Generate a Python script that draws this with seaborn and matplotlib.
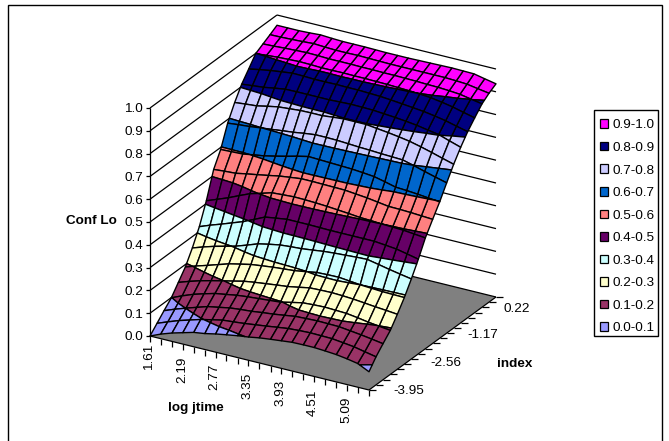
import numpy as np
import matplotlib
matplotlib.use("Agg")
import matplotlib.pyplot as plt
import seaborn as sns
from matplotlib.patches import Patch, Rectangle
from mpl_toolkits.mplot3d.art3d import Poly3DCollection, Line3DCollection

# ---------------- data ----------------
log_jtime = [1.61, 1.80, 2.00, 2.19, 2.38, 2.58, 2.77, 2.96, 3.16, 3.35, 3.54,
             3.74, 3.93, 4.12, 4.32, 4.51, 4.70, 4.90, 5.09, 5.28, 5.48]
index_vals = [-3.95, -3.72, -3.49, -3.25, -3.02, -2.79, -2.56, -2.33, -2.10, -1.86,
              -1.63, -1.40, -1.17, -0.94, -0.71, -0.48, -0.24, -0.01, 0.22]
conf_lo = [
 [.000,.020,.037,.050,.063,.070,.080,.088,.096,.102,.110,.116,.121,.126,.127,.127,.124,.120,.113,.104,.080],
 [.033,.051,.069,.083,.097,.108,.118,.122,.127,.133,.139,.146,.152,.155,.157,.156,.155,.149,.143,.133,.123],
 [.066,.084,.101,.116,.131,.140,.149,.154,.158,.164,.169,.176,.183,.185,.187,.186,.185,.179,.173,.166,.158],
 [.099,.119,.138,.152,.165,.173,.181,.186,.190,.194,.198,.209,.219,.222,.224,.222,.220,.213,.205,.199,.193],
 [.144,.160,.175,.187,.198,.209,.220,.227,.233,.239,.244,.253,.262,.264,.265,.263,.260,.255,.250,.246,.241],
 [.189,.205,.220,.235,.250,.261,.271,.277,.283,.287,.291,.299,.307,.309,.310,.305,.300,.297,.294,.293,.292],
 [.250,.266,.281,.293,.305,.322,.339,.349,.358,.362,.365,.371,.377,.381,.384,.387,.389,.379,.369,.360,.351],
 [.321,.339,.356,.373,.390,.412,.434,.441,.448,.448,.448,.447,.446,.446,.446,.446,.446,.441,.436,.426,.415],
 [.412,.430,.449,.470,.490,.504,.518,.521,.524,.523,.521,.518,.514,.510,.505,.503,.500,.498,.496,.491,.486],
 [.526,.530,.533,.542,.550,.559,.568,.574,.580,.580,.579,.578,.577,.572,.567,.560,.553,.552,.550,.547,.544],
 [.591,.593,.595,.603,.610,.621,.632,.644,.655,.653,.651,.649,.647,.643,.638,.627,.615,.612,.608,.603,.598],
 [.684,.689,.693,.699,.704,.710,.715,.722,.728,.728,.727,.724,.721,.719,.716,.714,.712,.699,.685,.672,.659],
 [.752,.757,.761,.771,.780,.784,.788,.789,.789,.794,.798,.798,.798,.792,.786,.779,.771,.759,.746,.732,.718],
 [.810,.815,.820,.828,.835,.836,.836,.836,.836,.838,.840,.839,.838,.834,.830,.825,.819,.810,.802,.786,.770],
 [.854,.863,.871,.877,.883,.882,.880,.880,.881,.880,.880,.878,.876,.872,.867,.862,.857,.849,.840,.828,.816],
 [.899,.903,.907,.909,.911,.910,.908,.908,.909,.908,.908,.907,.906,.904,.902,.899,.895,.887,.878,.866,.854],
 [.918,.920,.923,.925,.927,.926,.924,.924,.924,.923,.923,.922,.922,.921,.920,.918,.917,.914,.910,.901,.892],
 [.936,.937,.939,.941,.944,.941,.939,.939,.940,.939,.938,.937,.937,.937,.937,.937,.937,.935,.932,.924,.916],
 [.955,.955,.955,.957,.960,.957,.955,.955,.955,.954,.953,.953,.953,.954,.955,.956,.957,.956,.955,.945,.935],
]
band_edges = [0.0, 0.1, 0.2, 0.3, 0.4, 0.5, 0.6, 0.7, 0.8, 0.9, 1.0]
band_labels = ["0.0-0.1", "0.1-0.2", "0.2-0.3", "0.3-0.4", "0.4-0.5",
               "0.5-0.6", "0.6-0.7", "0.7-0.8", "0.8-0.9", "0.9-1.0"]
band_colors = ["#9999FF", "#993366", "#FFFFCC", "#CCFFFF", "#660066",
               "#FF8080", "#0066CC", "#CCCCFF", "#000080", "#FF00FF"]
z_ticks = [0.0, 0.1, 0.2, 0.3, 0.4, 0.5, 0.6, 0.7, 0.8, 0.9, 1.0]
x_tick_labels = ["1.61", "2.19", "2.77", "3.35", "3.93", "4.51", "5.09"]
y_tick_labels = ["-3.95", "-2.56", "-1.17", "0.22"]

# ---------------- style ----------------
sns.set_theme(style="white")
plt.rcParams["font.family"] = ["Liberation Sans", "DejaVu Sans"]
plt.rcParams["text.color"] = "black"
palette = sns.color_palette(band_colors)
FS = 9.7

W, H = 669, 441
fig = plt.figure(figsize=(W / 100, H / 100), dpi=100, facecolor="white")
ax = fig.add_axes([0, 0, 1, 1], projection="3d")
ax.set_xticks([])
ax.set_yticks([])
ax.set_zticks([])
ax.set_axis_off()
ax.patch.set_visible(False)
ax.computed_zorder = False

xmin, xmax = log_jtime[0], log_jtime[-1]
ymin, ymax = index_vals[0], index_vals[-1]

# Oblique view of the unit box: screen pixels for s, t, z (Excel-like projection)
SX, SY = 219.0, 54.0     # along log jtime
TX, TY = 127.0, -93.0    # along index
ZH = 228.0               # height of the value axis
OX, OY = 150.0, 336.0    # front-left floor corner

norm = np.array([[1 / (xmax - xmin), 0, 0, -xmin / (xmax - xmin)],
                 [0, 1 / (ymax - ymin), 0, -ymin / (ymax - ymin)],
                 [0, 0, 1, 0],
                 [0, 0, 0, 1]])
view = np.array([[SX, TX, 0, OX],
                 [-SY, -TY, ZH, H - OY],
                 [0, 1, -0.2, 0],
                 [0, 0, 0, 1]])
M = view @ norm
ax.get_proj = lambda: M
ax.apply_aspect = lambda position=None: None
ax.viewLim.intervalx = (0, W)
ax.viewLim.intervaly = (0, H)


def shift(x, y, z, dpx, dpy):
    """Data point displaced by a screen offset in pixels (dpy is downward)."""
    ds = dpx / SX
    dz = (SY * ds - dpy) / ZH
    return x + ds * (xmax - xmin), y, z + dz


def label_at(x, y, z, dpx, dpy, s, **kw):
    """Tick label placed at the projected position of a data point."""
    p = M @ np.array([x, y, z, 1.0])
    fig.text((p[0] + dpx) / W, (p[1] - dpy) / H, s, fontsize=FS, color="black", **kw)


def clip(poly, level, keep_above):
    out = []
    n = len(poly)
    for k in range(n):
        a, b = poly[k], poly[(k + 1) % n]
        ina = a[2] >= level if keep_above else a[2] <= level
        inb = b[2] >= level if keep_above else b[2] <= level
        if ina:
            out.append(a)
        if ina != inb:
            f = (level - a[2]) / (b[2] - a[2])
            out.append(tuple(a[m] + f * (b[m] - a[m]) for m in range(3)))
    return out


Z = np.array(conf_lo)
verts, faces = [], []
for j in range(len(index_vals) - 1):
    for i in range(len(log_jtime) - 1):
        quad = [(log_jtime[i], index_vals[j], Z[j, i]),
                (log_jtime[i + 1], index_vals[j], Z[j, i + 1]),
                (log_jtime[i + 1], index_vals[j + 1], Z[j + 1, i + 1]),
                (log_jtime[i], index_vals[j + 1], Z[j + 1, i])]
        for b in range(len(band_colors)):
            piece = clip(quad, band_edges[b], True)
            if len(piece) >= 3:
                piece = clip(piece, band_edges[b + 1], False)
            if len(piece) >= 3:
                verts.append(piece)
                faces.append(palette[b])

# floor
floor = Poly3DCollection([[(xmin, ymin, 0), (xmax, ymin, 0), (xmax, ymax, 0), (xmin, ymax, 0)]],
                         facecolors="#808080", edgecolors="none", zorder=1)
ax.add_collection3d(floor, autolim=False)

# wall gridlines
grid = []
for z in z_ticks:
    grid.append([(xmin, ymin, z), (xmin, ymax, z)])
    grid.append([(xmin, ymax, z), (xmax, ymax, z)])
ax.add_collection3d(Line3DCollection(grid, colors="black", linewidths=0.9, zorder=2), autolim=False)

# axis lines and tick marks
axes_lines = [[(xmin, ymin, 0), (xmin, ymin, 1)],
              [(xmin, ymin, 0), (xmax, ymin, 0)],
              [(xmax, ymin, 0), (xmax, ymax, 0)]]
for z in z_ticks:
    axes_lines.append([(xmin, ymin, z), shift(xmin, ymin, z, -4, 0)])
for x in log_jtime:
    axes_lines.append([(x, ymin, 0), shift(x, ymin, 0, 0, 6)])
for y in index_vals:
    axes_lines.append([(xmax, y, 0), shift(xmax, y, 0, 7, 0)])
ax.add_collection3d(Line3DCollection(axes_lines, colors="black", linewidths=0.9, zorder=3), autolim=False)

# surface
surf = Poly3DCollection(verts, facecolors=faces, edgecolors="black", linewidths=1.0, zorder=4)
ax.add_collection3d(surf, autolim=False)

# tick labels
for z in z_ticks:
    label_at(xmin, ymin, z, -7, 1.5, f"{z:.1f}", ha="right", va="center")
x_label_drop = [8, 13, 11, 12, 11, 13, 12]
for k, lab in enumerate(x_tick_labels):
    label_at(float(lab), ymin, 0, -1, x_label_drop[k], lab, ha="center", va="top", rotation=90)
y_label_dx = [24, 19, 14, 8]
y_label_dy = [0.5, 3.5, 6.5, 11.5]
for k, lab in enumerate(y_tick_labels):
    label_at(xmax, float(lab), 0, y_label_dx[k], y_label_dy[k], lab, ha="left", va="center")

# axis titles
fig.text(91 / W, 1 - 221 / H, "Conf Lo", ha="center", va="center", fontsize=FS, fontweight="bold", color="black")
fig.text(195.5 / W, 1 - 408 / H, "log jtime", ha="center", va="center", fontsize=FS, fontweight="bold", color="black")
fig.text(514.5 / W, 1 - 364 / H, "index", ha="center", va="center", fontsize=FS, fontweight="bold", color="black")

# legend (highest band first)
handles = [Patch(facecolor=palette[b], edgecolor="black", linewidth=0.9) for b in range(len(band_colors))][::-1]
leg = fig.legend(handles, band_labels[::-1], loc="upper left",
                 bbox_to_anchor=(593 / W, 1 - 112 / H), bbox_transform=fig.transFigure,
                 frameon=False,
                 fontsize=FS, handlelength=0.6, handleheight=0.6, handletextpad=0.3,
                 labelspacing=0.78, borderpad=0.55, borderaxespad=0)
fig.add_artist(Rectangle((594 / W, 1 - 336 / H), 64 / W, 226 / H, transform=fig.transFigure,
                         fill=False, edgecolor="black", linewidth=1.0))

# chart frame (runs off the bottom of the image)
fig.add_artist(Rectangle((8 / W, -0.05), (662 - 8) / W, 1.05 - 5 / H, transform=fig.transFigure,
                         fill=False, edgecolor="black", linewidth=1.0))

fig.savefig("out.png", dpi=100)
